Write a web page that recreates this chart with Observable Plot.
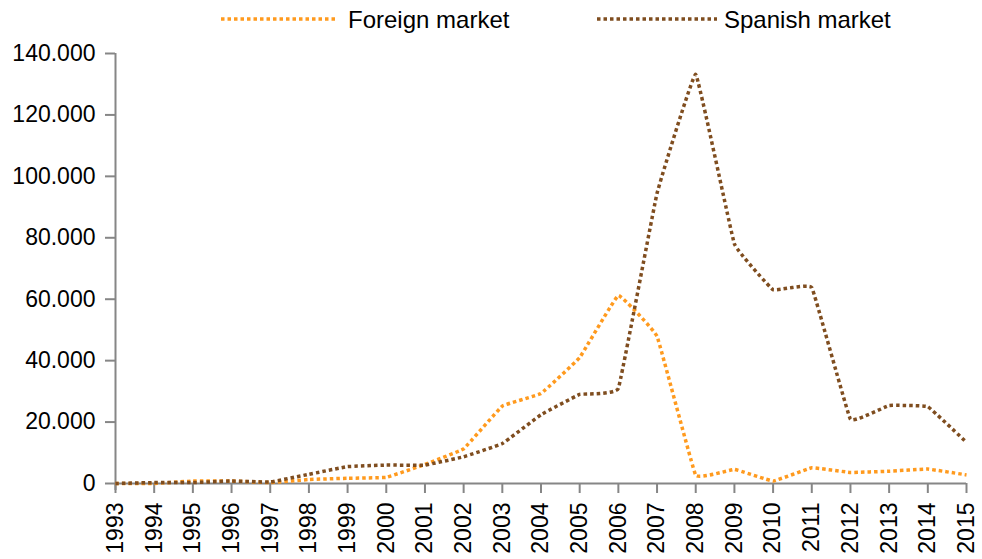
<!DOCTYPE html>
<html>
<head>
<meta charset="utf-8">
<script src="https://cdn.jsdelivr.net/npm/d3@7"></script>
<script src="https://cdn.jsdelivr.net/npm/@observablehq/plot@0.6"></script>
<style>
  html, body { margin: 0; padding: 0; background: #fff; }
  body { width: 982px; height: 559px; overflow: hidden; font-family: "Liberation Sans", Arial, sans-serif; }
  #legend { position: relative; height: 40px; width: 982px; }
  #legend svg.sw { position: absolute; top: 16px; height: 6px; }
  #legend .lbl { position: absolute; top: 6px; font-size: 24px; line-height: 27px; color: #000; }
</style>
</head>
<body>
<div id="legend"></div>
<div id="chart"></div>
<script>
const years = [1993,1994,1995,1996,1997,1998,1999,2000,2001,2002,2003,2004,2005,2006,2007,2008,2009,2010,2011,2012,2013,2014,2015];
const foreignMarket = [0,0,800,800,300,1300,1700,2000,6200,11300,25200,29300,41000,61200,47900,2700,4600,800,5100,3600,4000,4700,2800];
const spanishMarket = [0,300,300,800,500,3000,5500,6000,6000,8700,13000,22400,29000,31000,94500,133200,78000,63100,63800,20900,25400,25000,13400];
const seriesNames = ["Foreign market", "Spanish market"];
const seriesColors = ["#FF9A1E", "#7F4D1F"];
const yTicks = [0,20000,40000,60000,80000,100000,120000,140000];

const data = [];
years.forEach((y, i) => {
  data.push({year: y, value: foreignMarket[i], series: seriesNames[0]});
  data.push({year: y, value: spanishMarket[i], series: seriesNames[1]});
});

// Legend
const legend = document.getElementById("legend");
const legendPos = [{sw: 221, w: 117, tx: 348}, {sw: 597, w: 120, tx: 724}];
const NS = "http://www.w3.org/2000/svg";
seriesNames.forEach((name, i) => {
  const s = document.createElementNS(NS, "svg");
  s.setAttribute("class", "sw");
  s.setAttribute("width", legendPos[i].w);
  s.setAttribute("height", 6);
  s.style.left = legendPos[i].sw + "px";
  const ln = document.createElementNS(NS, "line");
  ln.setAttribute("x1", 0); ln.setAttribute("x2", legendPos[i].w);
  ln.setAttribute("y1", 3); ln.setAttribute("y2", 3);
  ln.setAttribute("stroke", seriesColors[i]);
  ln.setAttribute("stroke-width", 3.5);
  ln.setAttribute("stroke-dasharray", "3.5,3");
  s.appendChild(ln);
  legend.appendChild(s);
  const t = document.createElement("div");
  t.className = "lbl";
  t.style.left = legendPos[i].tx + "px";
  t.textContent = name;
  legend.appendChild(t);
});

const axisGray = "#868686";
const fmt = d => d3.format(",")(d).replace(/,/g, ".");

const chart = Plot.plot({
  width: 982,
  height: 519,
  marginTop: 13,
  marginBottom: 76,
  marginLeft: 115,
  marginRight: 16,
  style: {fontFamily: "'Liberation Sans', Arial, sans-serif", fontSize: "23px", color: "#000", background: "#fff", overflow: "visible"},
  x: {domain: [1993, 2015]},
  y: {domain: [0, 140000]},
  color: {domain: seriesNames, range: seriesColors},
  marks: [
    Plot.axisY({ticks: yTicks, tickSize: 10, tickPadding: 10, tickFormat: fmt, stroke: axisGray, strokeWidth: 2, fill: "#000", fontSize: 23, label: null}),
    Plot.axisX({ticks: years, tickSize: 10, tickPadding: 9, tickRotate: -90, tickFormat: "d", stroke: axisGray, strokeWidth: 2, fill: "#000", fontSize: 23, label: null}),
    Plot.ruleY([0], {stroke: axisGray, strokeWidth: 2}),
    Plot.ruleX([1993], {stroke: axisGray, strokeWidth: 2, insetBottom: -7}),
    Plot.line(data, {x: "year", y: "value", z: "series", stroke: "series", strokeWidth: 3.5, strokeDasharray: "3.5,3", strokeLinecap: "butt", strokeLinejoin: "miter", curve: d3.curveCardinal.tension(0.8)})
  ]
});
document.getElementById("chart").appendChild(chart);
</script>
</body>
</html>
